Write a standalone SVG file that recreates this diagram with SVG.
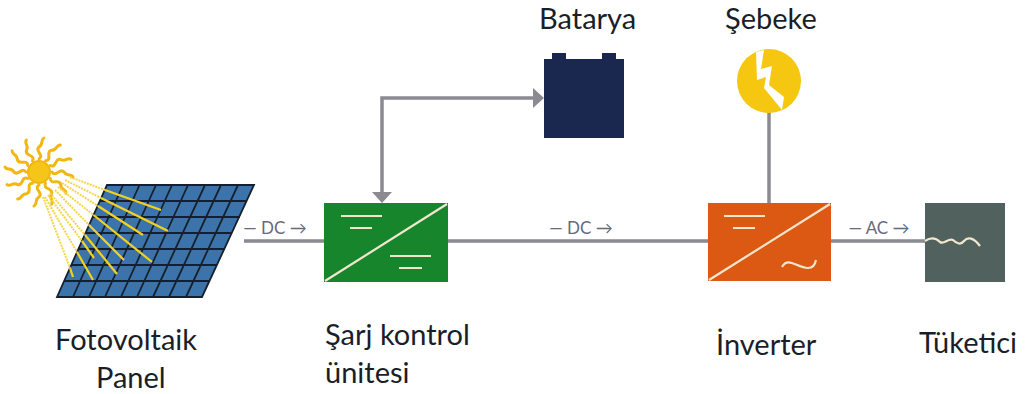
<svg xmlns="http://www.w3.org/2000/svg" width="1025" height="394" viewBox="0 0 1025 394">
<style>
.lbl{font-family:"Lato","Liberation Sans",sans-serif;font-size:29px;fill:#1a1e28}
.cur{font-family:"Lato","Liberation Sans",sans-serif;font-size:17px;fill:#656a7c;text-anchor:middle}
.conn{fill:none;stroke:#8b8a90;stroke-width:3.500}
.ar{fill:#8b8a90}
.mark{fill:none;stroke:#f3e6cf;stroke-width:2.200}
.grid{stroke:#16202c;stroke-width:1.800;fill:none}
.beamd{stroke:#f5d64a;stroke-width:2;stroke-dasharray:2 1;fill:none}
.beam{stroke:#f2d21f;stroke-width:2.200;fill:none}
.ray{fill:none;stroke:#f2b713;stroke-width:3;stroke-linecap:round}
</style>
<defs>
<path id="ray" class="ray" d="M0-13C6-17-5-21 0-25C5-28 1-32 5-34"/>
</defs>

<g id="connectors">
<path class="conn" d="M244 241H324M448 241H708M831 241H925"/>
<path class="conn" d="M769 112V203"/>
<path class="conn" d="M382 192V98H534"/>
<path class="ar" d="M372 192H392L382 203Z"/>
<path class="ar" d="M533 88L544 98L533 108Z"/>
</g>

<g id="panel">
<path d="M107 185H254L202 297H57Z" fill="#3b74ad"/>
<path class="grid" d="M107 185H254L202 297H57ZM100 201H247M93 217H240M86 233H232M79 249H224M72 265H217M64 281H209M123 185L73 297M139.500 185L89 297M156 185L105 297M172 185L121 297M188 185L137 297M205 185L153 297M221 185L169 297M238 185L186 297"/>
</g>

<g id="sun">
<circle cx="39" cy="172" r="11" fill="#f5c518" stroke="#f2b713" stroke-width="2"/>
<g transform="translate(39 172)">
<use href="#ray"/>
<use href="#ray" transform="rotate(30)"/>
<use href="#ray" transform="rotate(60)"/>
<use href="#ray" transform="rotate(90)"/>
<use href="#ray" transform="rotate(120)"/>
<use href="#ray" transform="rotate(150)"/>
<use href="#ray" transform="rotate(180)"/>
<use href="#ray" transform="rotate(210)"/>
<use href="#ray" transform="rotate(240)"/>
<use href="#ray" transform="rotate(270)"/>
<use href="#ray" transform="rotate(300)"/>
<use href="#ray" transform="rotate(330)"/>
</g>
<path class="beamd" d="M70 177L105 190M65 180L101 198M62 183L98 206M58 187L93.500 215M55 190L89 225M50 193L85 235M48 195L82 241M45 197L77 252M43 197L70 268"/>
<path class="beam" d="M105 190L161 210M101 198L168 231M98 206L143 235M93.500 215L152 262M89 225L124 260M85 235L117 274M82 241L94 258M77 252L93 280M70 268L73 277"/>
</g>

<g id="charge-controller">
<rect x="324" y="203" width="124" height="79" fill="#16852c"/>
<path class="mark" d="M325 281L447 204M341 216H382M350 228H372M390 256H431M399 268H422"/>
</g>

<g id="battery">
<path d="M552 59V53H566V59H602V53H616V59H624V138H544V59Z" fill="#1a2850"/>
</g>

<g id="grid-node">
<circle cx="769" cy="81" r="32" fill="#f6c711"/>
<path d="M756 52L764 50L761 69L772 66L769 85L784 97L782 110L764 88L766 77L757 80Z" fill="#fff"/>
</g>

<g id="inverter">
<rect x="708" y="203" width="123" height="78" fill="#dc5914"/>
<path class="mark" d="M709 280L830 204M724 216H765M733 228H755M782 267C788 256 797 268 808 268C813 268 815 265 816 260"/>
</g>

<g id="consumer">
<rect x="925" y="203" width="80" height="79" fill="#51625e"/>
<path class="mark" d="M925 241C931 237 936 238 940 242C944 245 948 238 953 240C957 244 961 245 964 241C968 236 974 238 980 246" stroke-width="3"/>
</g>

<g id="labels">
<text class="cur" x="275" y="234">— DC →</text>
<text class="cur" x="581" y="234">— DC →</text>
<text class="cur" x="879" y="234">— AC →</text>
<text class="lbl" x="539" y="29">Batarya</text>
<text class="lbl" x="725" y="29">Şebeke</text>
<text class="lbl" x="55" y="350">Fotovoltaik</text>
<text class="lbl" x="96" y="388">Panel</text>
<text class="lbl" x="325" y="345">Şarj kontrol</text>
<text class="lbl" x="325" y="383">ünitesi</text>
<text class="lbl" x="716" y="355">İnverter</text>
<text class="lbl" x="919" y="353">Tüketici</text>
</g>
</svg>
